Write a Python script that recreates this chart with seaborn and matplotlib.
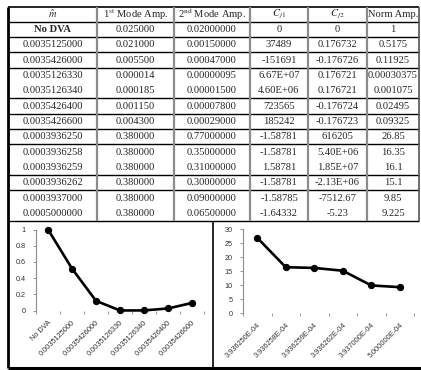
import matplotlib
matplotlib.use("Agg")
import matplotlib.pyplot as plt
import matplotlib.ticker as mticker
import seaborn as sns
import pandas as pd
import numpy as np

sns.set_theme(style="white")
plt.rcParams["font.family"] = ["Liberation Serif", "DejaVu Serif"]
plt.rcParams["mathtext.fontset"] = "stix"

# ---- table contents ----
header = [r"$\hat{m}$", r"1$^{\rm st}$ Mode Amp.", r"2$^{\rm nd}$ Mode Amp.",
          r"$C_{j1}$", r"$C_{j2}$", "Norm Amp."]
m_hat = ["No DVA", "0.0035125000", "0.0035426000", "0.0035126330", "0.0035126340",
         "0.0035426400", "0.0035426600", "0.0003936250", "0.0003936258",
         "0.0003936259", "0.0003936262", "0.0003937000", "0.0005000000"]
mode1_amp = ["0.025000", "0.021000", "0.005500", "0.000014", "0.000185", "0.001150",
             "0.004300", "0.380000", "0.380000", "0.380000", "0.380000", "0.380000",
             "0.380000"]
mode2_amp = ["0.02000000", "0.00150000", "0.00047000", "0.00000095", "0.00001500",
             "0.00007800", "0.00029000", "0.77000000", "0.35000000", "0.31000000",
             "0.30000000", "0.09000000", "0.06500000"]
c_j1 = ["0", "37489", "-151691", "6.67E+07", "4.60E+06", "723565", "185242",
        "-1.58781", "-1.58781", "1.58781", "-1.58781", "-1.58785", "-1.64332"]
c_j2 = ["0", "0.176732", "-0.176726", "0.176721", "0.176721", "-0.176724", "-0.176723",
        "616205", "5.40E+06", "1.85E+07", "-2.13E+06", "-7512.67", "-5.23"]
norm_amp = ["1", "0.5175", "0.11925", "0.00030375", "0.001075", "0.02495", "0.09325",
            "26.85", "16.35", "16.1", "15.1", "9.85", "9.225"]
# rows that share one bordered block
row_groups = [1, 1, 1, 2, 1, 1, 1, 2, 1, 2]

W, H = 421, 370
fig = plt.figure(figsize=(W / 100, H / 100), dpi=100)
canvas = fig.add_axes([0, 0, 1, 1])
canvas.set_xlim(0, W)
canvas.set_ylim(H, 0)
canvas.axis("off")

col_edges = [8, 97, 174, 250, 308, 367, 419]
table_top, table_bottom = 6.5, 221
row_h = (table_bottom - table_top) / (len(m_hat) + 1)
ink = "#262626"
fs = 7.6

columns = [m_hat, mode1_amp, mode2_amp, c_j1, c_j2, norm_amp]
centers = [(col_edges[i] + col_edges[i + 1]) / 2 for i in range(6)]

for c, txt in enumerate(header):
    canvas.text(centers[c], table_top + row_h * 0.5, txt, ha="center", va="center",
                fontsize=fs, color=ink)
for r in range(len(m_hat)):
    y = table_top + row_h * (r + 1.5)
    for c in range(6):
        weight = "bold" if (r == 0 and c == 0) else "normal"
        canvas.text(centers[c], y, columns[c][r], ha="center", va="center",
                    fontsize=fs, color=ink, fontweight=weight)

# horizontal rules
canvas.hlines(table_top, col_edges[0], col_edges[-1], color="black", lw=1.2)
canvas.hlines(table_top + row_h, col_edges[0], col_edges[-1], color="black", lw=1.0)
acc = 1
for g in row_groups:
    acc += g
    canvas.hlines(table_top + row_h * acc, col_edges[0], col_edges[-1],
                  color="black", lw=1.0)
# vertical rules
for x in col_edges[1:-1]:
    canvas.vlines(x, table_top, table_bottom, color="#8c8c8c", lw=1.6)
canvas.vlines(col_edges[-1], table_top, table_bottom, color="#555555", lw=1.2)

# outer frame and chart divider
canvas.vlines(8, table_top, 368, color="black", lw=2.0)
canvas.hlines(367.5, 8, W, color="black", lw=2.2)
canvas.vlines(213, table_bottom, 368, color="black", lw=1.2)

chart_font = ["Liberation Sans", "DejaVu Sans"]


def draw_chart(box, labels, values, ymax, ystep):
    left, top, right, bottom = box
    ax = fig.add_axes([left / W, 1 - bottom / H, (right - left) / W, (bottom - top) / H])
    df = pd.DataFrame({"pos": np.arange(len(labels)), "val": values})
    sns.lineplot(data=df, x="pos", y="val", ax=ax, color="black", lw=1.9,
                 marker="o", markersize=4.5, markeredgecolor="black", clip_on=False)
    ax.set_xlim(-0.5, len(labels) - 0.5)
    ax.set_ylim(0, ymax)
    ax.set_xlabel("")
    ax.set_ylabel("")
    ax.set_facecolor("none")
    ax.set_xticks(np.arange(len(labels)))
    ax.set_xticklabels(labels, rotation=45, ha="right", rotation_mode="anchor",
                       fontsize=5.3, family=chart_font, color="#333333")
    ax.set_xticks(np.arange(len(labels) + 1) - 0.5, minor=True)
    ax.tick_params(axis="x", which="major", length=0, pad=6)
    ax.tick_params(axis="x", which="minor", length=2.2, width=0.6, color="#888888",
                   direction="out", bottom=True)
    ax.set_yticks(np.arange(0, ymax + ystep / 2, ystep))
    ax.yaxis.set_major_formatter(mticker.FuncFormatter(lambda v, p: f"{v:g}"))
    ax.tick_params(axis="y", length=2.5, width=0.6, color="#888888", direction="out",
                   left=True, pad=5, labelsize=5.2, labelcolor="#333333")
    for t in ax.get_yticklabels():
        t.set_family(chart_font)
    for s in ["top", "right", "bottom"]:
        ax.spines[s].set_visible(False)
    ax.spines["left"].set_color("#8c8c8c")
    ax.spines["left"].set_linewidth(0.8)
    ax.grid(False)
    return ax


left_vals = [float(v) for v in norm_amp[:7]]
right_vals = [float(v) for v in norm_amp[7:]]
right_labels = [f"{float(m):.6E}" for m in m_hat[7:]]

draw_chart((36, 229.5, 204, 310.5), m_hat[:7], left_vals, 1.0, 0.2)
draw_chart((243, 229, 414, 313), right_labels, right_vals, 30, 5)

fig.savefig("out.png", dpi=100)
